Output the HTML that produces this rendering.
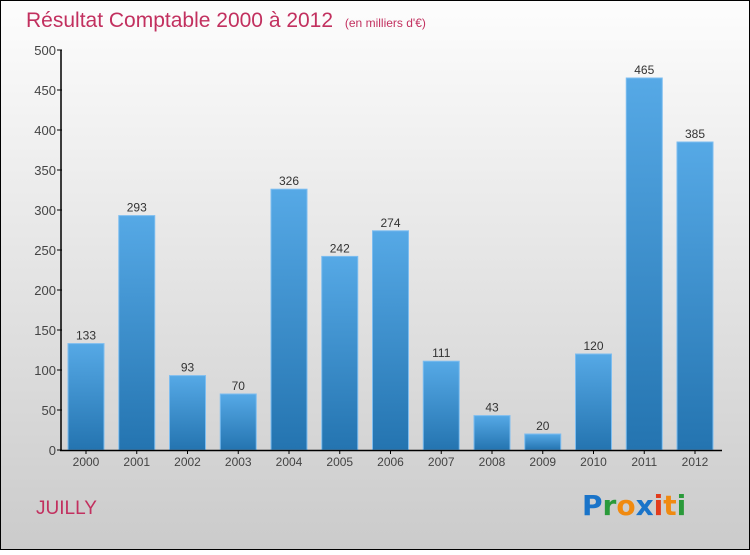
<!DOCTYPE html>
<html><head><meta charset="utf-8"><style>
body{margin:0;width:750px;height:550px;overflow:hidden;font-family:"Liberation Sans",sans-serif}
</style></head><body>
<svg id="c" width="750" height="550" xmlns="http://www.w3.org/2000/svg">
<defs>
<linearGradient id="bg" x1="0" y1="0" x2="0" y2="1"><stop offset="0" stop-color="#fdfdfd"/><stop offset="1" stop-color="#cbcbcb"/></linearGradient>
<linearGradient id="bar" x1="0" y1="0" x2="0" y2="1"><stop offset="0" stop-color="#56a9e6"/><stop offset="1" stop-color="#2474b0"/></linearGradient>
</defs>
<rect x="0.5" y="0.5" width="749" height="549" fill="url(#bg)" stroke="#000"/>
<text x="26" y="27" font-size="21" fill="#c2305f">Résultat Comptable 2000 à 2012 <tspan font-size="12" dx="6">(en milliers d'€)</tspan></text>
<text x="36" y="514" font-size="19" fill="#c2305f">JUILLY</text>
<g font-size="28" font-weight="bold" font-family="'DejaVu Sans',sans-serif">
<text x="582" y="515"><tspan fill="#1a74c9">P</tspan><tspan fill="#2a9a3a">r</tspan><tspan fill="#f08a10">o</tspan><tspan fill="#1a74c9">x</tspan><tspan fill="#e23b1b">i</tspan><tspan fill="#f08a10">t</tspan><tspan fill="#2a9a3a">i</tspan></text>
</g>
<g id="plot"></g>
</svg>
<script>
const years=["2000","2001","2002","2003","2004","2005","2006","2007","2008","2009","2010","2011","2012"];
const values=[133,293,93,70,326,242,274,111,43,20,120,465,385];
const yTicks=[0,50,100,150,200,250,300,350,400,450,500];
const NS="http://www.w3.org/2000/svg";
const g=document.getElementById('plot');
const y=v=>450-v*0.8;
const x=i=>86+i*50.75;
function mk(t,a){const e=document.createElementNS(NS,t);for(const k in a)e.setAttribute(k,a[k]);g.appendChild(e);return e;}
yTicks.forEach(v=>{
 const l=mk('line',{x1:57,x2:62,y1:y(v),y2:y(v),stroke:'#000'});
 
 
 const t=mk('text',{x:56,y:y(v)+5,'text-anchor':'end','font-size':13,fill:'#444'});
 t.textContent=v;
 
 
});
values.forEach((v,i)=>{
 const r=mk('rect',{x:x(i)-18,y:y(v),width:36,height:450-y(v),fill:'url(#bar)',stroke:'#7dbdf0','stroke-width':1});
 
 
 const t=mk('text',{x:x(i),y:y(v)-4,'text-anchor':'middle','font-size':12,fill:'#333'});
 t.textContent=v;
 
 
 const tk=mk('line',{x1:x(i),x2:x(i),y1:450,y2:454,stroke:'#000'});
 
 
 const xl=mk('text',{x:x(i),y:466,'text-anchor':'middle','font-size':12,fill:'#444'});
 xl.textContent=years[i];
 
 
});
const ya=mk('line',{x1:61,x2:61,y1:50,y2:451,stroke:'#000','stroke-width':1.5});


const xa=mk('line',{x1:60,x2:722,y1:450.5,y2:450.5,stroke:'#000','stroke-width':1.5});


</script>
</body></html>
